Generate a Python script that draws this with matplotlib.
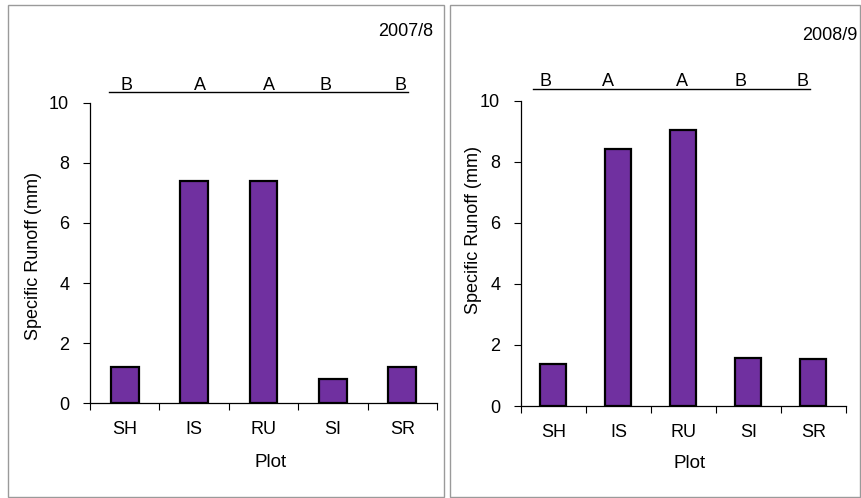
import matplotlib.pyplot as plt
from matplotlib.patches import Rectangle
from matplotlib.ticker import FixedLocator

plt.rcParams["font.family"] = ["Liberation Sans", "DejaVu Sans"]
plt.rcParams["font.size"] = 13

# ==================== DATA ====================
plots = ["SH", "IS", "RU", "SI", "SR"]
runoff_2007 = [1.21, 7.41, 7.39, 0.79, 1.21]
runoff_2008 = [1.37, 8.43, 9.05, 1.56, 1.53]
groups_2007 = ["B", "A", "A", "B", "B"]
groups_2008 = ["B", "A", "A", "B", "B"]
years = ["2007/8", "2008/9"]

BAR_COLOR = "#7030A0"
W, H = 862, 498


def px_rect(x0, y0, x1, y1):
    # pixel box (top-left origin) -> figure fraction [l, b, w, h]
    return [x0 / W, 1 - y1 / H, (x1 - x0) / W, (y1 - y0) / H]


def draw_panel(ax, values, groups, letter_x, letter_y, line_x, line_y, ylab_xy, xlab_xy):
    x = range(len(plots))
    ax.bar(x, values, width=0.4, color=BAR_COLOR, edgecolor="black", linewidth=1.6)
    ax.set_xlim(-0.5, len(plots) - 0.5)
    ax.set_ylim(0, 10)
    ax.set_yticks([0, 2, 4, 6, 8, 10])
    ax.set_xticks(list(x))
    ax.set_xticklabels(plots)
    ax.xaxis.set_minor_locator(FixedLocator([i - 0.5 for i in range(len(plots) + 1)]))
    ax.tick_params(axis="x", which="major", length=0, pad=13)
    ax.tick_params(axis="x", which="minor", length=5, width=0.8, direction="out")
    ax.tick_params(axis="y", length=5, width=0.8, direction="out", pad=10)
    for s in ["top", "right"]:
        ax.spines[s].set_visible(False)
    for s in ["left", "bottom"]:
        ax.spines[s].set_linewidth(0.9)

    ax.set_ylabel("Specific Runoff (mm)")
    ax.yaxis.set_label_coords(*ylab_xy)
    ax.set_xlabel("Plot", fontsize=13.5)
    ax.xaxis.set_label_coords(*xlab_xy)

    # significance letters with a rule under them
    for lx, g in zip(letter_x, groups):
        ax.text(lx, letter_y, g, ha="center", va="baseline", clip_on=False)
    ax.plot(line_x, [line_y, line_y], color="black", lw=1.0, clip_on=False)


fig = plt.figure(figsize=(W / 100, H / 100), dpi=100)

# panel frames
for x0, x1 in [(8, 444), (450, 860)]:
    l, b, w, h = px_rect(x0, 5, x1, 497)
    fig.add_artist(Rectangle((l, b), w, h, transform=fig.transFigure,
                             fill=False, edgecolor="#9a9a9a", lw=1.0))

ax1 = fig.add_axes(px_rect(90, 103, 437, 403))
draw_panel(ax1, runoff_2007, groups_2007,
           letter_x=[0.02, 1.08, 2.08, 2.90, 3.97], letter_y=10.43,
           line_x=[-0.23, 4.08], line_y=10.36,
           ylab_xy=(-0.138, 0.49), xlab_xy=(0.52, -0.17))

ax2 = fig.add_axes(px_rect(521, 100.7, 846, 406))
draw_panel(ax2, runoff_2008, groups_2008,
           letter_x=[-0.13, 0.84, 1.98, 2.87, 3.83], letter_y=10.49,
           line_x=[-0.32, 3.95], line_y=10.38,
           ylab_xy=(-0.12, 0.577), xlab_xy=(0.52, -0.16))

fig.text(433 / W, 1 - 36 / H, years[0], ha="right", va="baseline")
fig.text(858 / W, 1 - 40 / H, years[1], ha="right", va="baseline")

fig.savefig("out.png", dpi=100)
